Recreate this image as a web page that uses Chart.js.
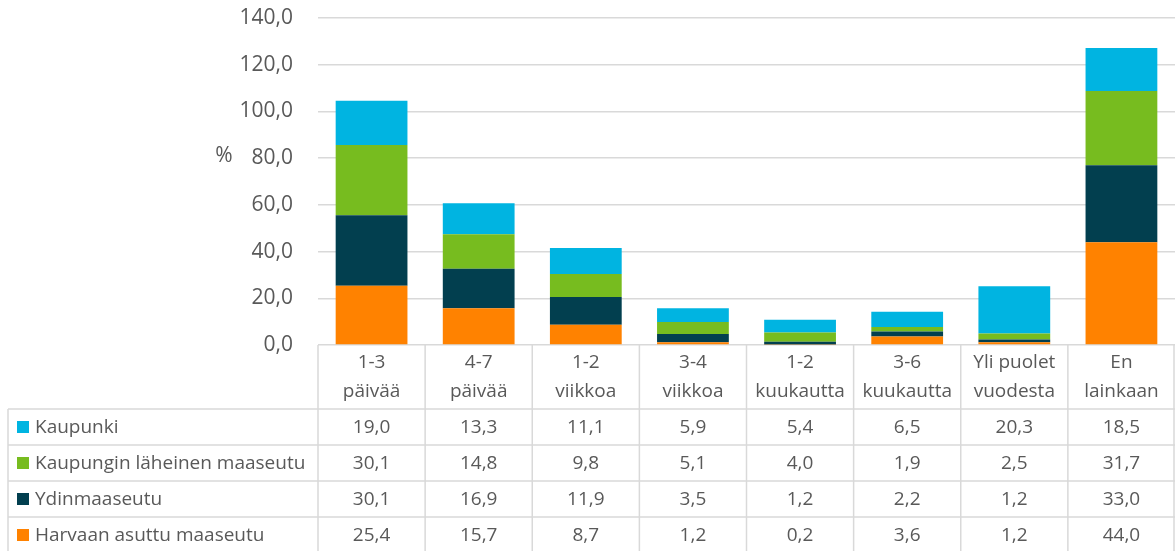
<!DOCTYPE html>
<html>
<head>
<meta charset="utf-8">
<script src="https://cdn.jsdelivr.net/npm/chart.js@4.4.0/dist/chart.umd.min.js"></script>
<style>
  html, body { margin: 0; padding: 0; background: #fff; }
  #wrap { width: 1175px; height: 551px; }
</style>
</head>
<body>
<div id="wrap"><canvas id="chart" width="1175" height="551"></canvas></div>
<script>
// --- DATA ---
const categories = [
    ['1-3', 'päivää'],
    ['4-7', 'päivää'],
    ['1-2', 'viikkoa'],
    ['3-4', 'viikkoa'],
    ['1-2', 'kuukautta'],
    ['3-6', 'kuukautta'],
    ['Yli puolet', 'vuodesta'],
    ['En', 'lainkaan']
];
const kaupunki = [19.0, 13.3, 11.1, 5.9, 5.4, 6.5, 20.3, 18.5];
const lahimaaseutu = [30.1, 14.8, 9.8, 5.1, 4.0, 1.9, 2.5, 31.7];
const ydinmaaseutu = [30.1, 16.9, 11.9, 3.5, 1.2, 2.2, 1.2, 33.0];
const harvaan = [25.4, 15.7, 8.7, 1.2, 0.2, 3.6, 1.2, 44.0];
const yTicks = [0, 20, 40, 60, 80, 100, 120, 140];

const textColor = '#595959';
const lineColor = '#d9d9d9';
const fontFamily = '"Open Sans", "DejaVu Sans", sans-serif';

const fmt = v => v.toFixed(1).replace('.', ',');

// bottom of the stack first, table lists them top-down
const datasets = [
    { label: 'Harvaan asuttu maaseutu', data: harvaan, backgroundColor: '#ff8200' },
    { label: 'Ydinmaaseutu', data: ydinmaaseutu, backgroundColor: '#023f4f' },
    { label: 'Kaupungin läheinen maaseutu', data: lahimaaseutu, backgroundColor: '#77bc1f' },
    { label: 'Kaupunki', data: kaupunki, backgroundColor: '#00b4e1' }
];

// --- DATA TABLE UNDER THE CHART ---
const dataTable = {
    id: 'dataTable',
    afterDraw(chart) {
        const ctx = chart.ctx;
        const x = chart.scales.x;
        const top = chart.chartArea.bottom;
        const n = categories.length;
        const colW = (x.right - x.left) / n;
        const headerBottom = top + 64;
        const rowH = 36;
        const tableLeft = 8;
        const bottom = chart.height + 5;
        const rows = datasets.slice().reverse();

        ctx.save();
        ctx.strokeStyle = lineColor;
        ctx.lineWidth = 1.5;
        ctx.beginPath();
        for (let i = 0; i <= n; i++) {
            let bx = x.left + i * colW;
            if (i === n) bx -= 1;
            ctx.moveTo(bx, top);
            ctx.lineTo(bx, bottom);
        }
        ctx.moveTo(tableLeft, headerBottom);
        ctx.lineTo(tableLeft, bottom);
        for (let r = 0; r <= rows.length; r++) {
            const ry = headerBottom + r * rowH;
            ctx.moveTo(tableLeft, ry);
            ctx.lineTo(x.right, ry);
        }
        ctx.stroke();

        ctx.fillStyle = textColor;
        ctx.font = '19px ' + fontFamily;
        ctx.textAlign = 'center';
        ctx.textBaseline = 'middle';
        categories.forEach((lines, i) => {
            const cx = x.getPixelForValue(i);
            ctx.fillText(lines[0], cx, top + 18);
            ctx.fillText(lines[1], cx, top + 47);
        });

        rows.forEach((ds, r) => {
            const cy = headerBottom + r * rowH + rowH / 2;
            ctx.fillStyle = ds.backgroundColor;
            ctx.fillRect(17, cy - 6, 12, 12);
            ctx.fillStyle = textColor;
            ctx.textAlign = 'left';
            ctx.fillText(ds.label, 35, cy + 1);
            ctx.textAlign = 'center';
            ds.data.forEach((v, i) => {
                ctx.fillText(fmt(v), x.getPixelForValue(i), cy + 1);
            });
        });

        // unit label
        ctx.font = '21px ' + fontFamily;
        ctx.fillText('%', 224, chart.scales.y.getPixelForValue(80) - 2);
        ctx.restore();
    }
};

new Chart(document.getElementById('chart'), {
    type: 'bar',
    data: {
        labels: categories.map(c => c.join(' ')),
        datasets: datasets.map(d => Object.assign({ barPercentage: 0.67, categoryPercentage: 1 }, d))
    },
    options: {
        responsive: false,
        animation: false,
        layout: { padding: { top: 18, bottom: 206, left: 0, right: 0 } },
        plugins: {
            legend: { display: false },
            tooltip: { enabled: false }
        },
        scales: {
            x: {
                display: false,
                stacked: true
            },
            y: {
                stacked: true,
                min: 0,
                max: 140,
                afterFit(scale) {
                    scale.width = 318;
                    scale.paddingTop = 0;
                    scale.paddingBottom = 0;
                },
                afterBuildTicks(scale) { scale.ticks = yTicks.map(v => ({ value: v })); },
                border: { display: false },
                grid: { color: lineColor, lineWidth: 1.5, drawTicks: false },
                ticks: {
                    padding: 25,
                    color: textColor,
                    font: { family: fontFamily, size: 21 },
                    callback: v => fmt(v)
                }
            }
        }
    },
    plugins: [dataTable]
});
</script>
</body>
</html>
